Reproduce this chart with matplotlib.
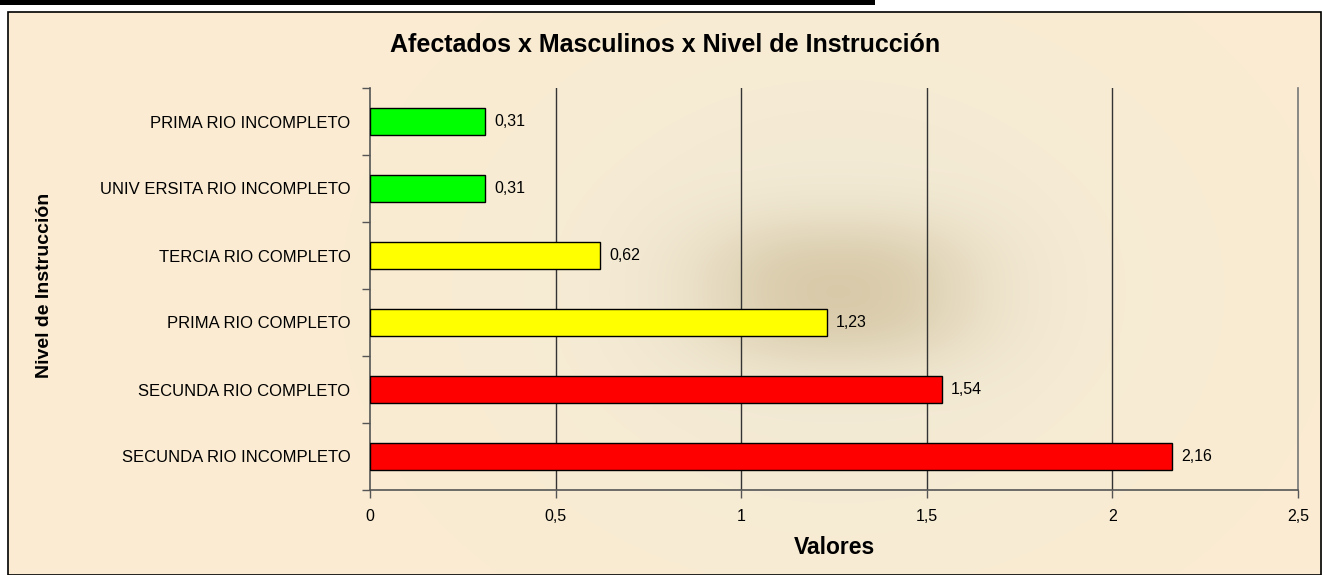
import numpy as np
import matplotlib
matplotlib.use("Agg")
import matplotlib.pyplot as plt
from matplotlib.patches import Rectangle

plt.rcParams['font.family'] = ['Liberation Sans', 'DejaVu Sans']

categories = ["SECUNDA RIO INCOMPLETO", "SECUNDA RIO COMPLETO", "PRIMA RIO COMPLETO",
              "TERCIA RIO COMPLETO", "UNIV ERSITA RIO INCOMPLETO", "PRIMA RIO INCOMPLETO"]
values = [2.16, 1.54, 1.23, 0.62, 0.31, 0.31]
colors = ["#FF0000", "#FF0000", "#FFFF00", "#FFFF00", "#00FF00", "#00FF00"]
value_labels = ["2,16", "1,54", "1,23", "0,62", "0,31", "0,31"]
xticks = [0, 0.5, 1, 1.5, 2, 2.5]
xtick_labels = ["0", "0,5", "1", "1,5", "2", "2,5"]

W, H = 1322, 575
fig = plt.figure(figsize=(W / 100, H / 100), dpi=100)
fig.patch.set_facecolor("white")

# background panel with soft smudge
bg = fig.add_axes([0, 0, 1, 1], zorder=-2)
bg.axis("off")
yy, xx = np.mgrid[0:H, 0:W]
base = np.array([251, 236, 210]) / 255.0
mid = np.array([241, 234, 214]) / 255.0
dark = np.array([214, 199, 165]) / 255.0
# broad greyish zone in the middle of the plot
z = np.exp(-(np.abs((xx - 835) / 330.0) ** 2 + np.abs((yy - 285) / 260.0) ** 2))
img = base[None, None, :] * (1 - z[..., None]) + mid[None, None, :] * z[..., None]
g = 0.9 * np.exp(-(np.abs((xx - 835) / 140.0) ** 2.5 + np.abs((yy - 285) / 75.0) ** 2.5))
img = img * (1 - g[..., None]) + dark[None, None, :] * g[..., None]
bg.imshow(img, extent=(8, W, H, 12), aspect="auto", interpolation="bilinear", zorder=0)
bg.set_xlim(0, W); bg.set_ylim(H, 0)
bg.add_patch(Rectangle((8, 12), W - 9, H - 12, fill=False, edgecolor="black", lw=1.2, zorder=2))
bg.add_patch(Rectangle((0, 0), 875, 5, facecolor="black", edgecolor="none", zorder=2))

ax = fig.add_axes([370 / W, 1 - 490 / H, (1298 - 370) / W, (490 - 88) / H])
ax.patch.set_alpha(0)
y = np.arange(len(categories))
ax.barh(y, values, height=0.4, color=colors, edgecolor="black", linewidth=1.0, zorder=3)
for yi, v, lab in zip(y, values, value_labels):
    ax.text(v + 0.025, yi, lab, va="center", ha="left", fontsize=11.5, color="black")

ax.set_xlim(0, 2.5)
ax.set_ylim(-0.5, len(categories) - 0.5)
ax.set_xticks(xticks)
ax.set_xticklabels(xtick_labels, fontsize=11.5)
ax.set_yticks(y)
ax.set_yticklabels(categories, fontsize=12)
ax.set_yticks(np.arange(-0.5, len(categories), 1), minor=True)
ax.tick_params(axis="y", which="major", length=0, pad=14)
ax.tick_params(axis="y", which="minor", length=6, width=1, color="#555555", direction="out")
ax.tick_params(axis="x", length=6, width=1, color="#555555", direction="out", pad=8)
for xv in xticks[1:-1]:
    ax.axvline(xv, color="#333333", lw=1, zorder=1)
ax.spines["top"].set_visible(False)
ax.spines["right"].set_color("#777777")
ax.spines["left"].set_color("#555555")
ax.spines["bottom"].set_color("#555555")
for s in ["left", "bottom", "right"]:
    ax.spines[s].set_linewidth(1.2)

fig.text(665 / W, 1 - 45 / H, "Afectados x Masculinos x Nivel de Instrucción",
         ha="center", va="center", fontsize=18, fontweight="bold")
fig.text(45 / W, 1 - 285 / H, "Nivel de Instrucción", rotation=90,
         ha="center", va="center", fontsize=14, fontweight="bold")
fig.text(834 / W, 1 - 548 / H, "Valores", ha="center", va="center",
         fontsize=16.5, fontweight="bold")

fig.savefig("out.png", dpi=100)
